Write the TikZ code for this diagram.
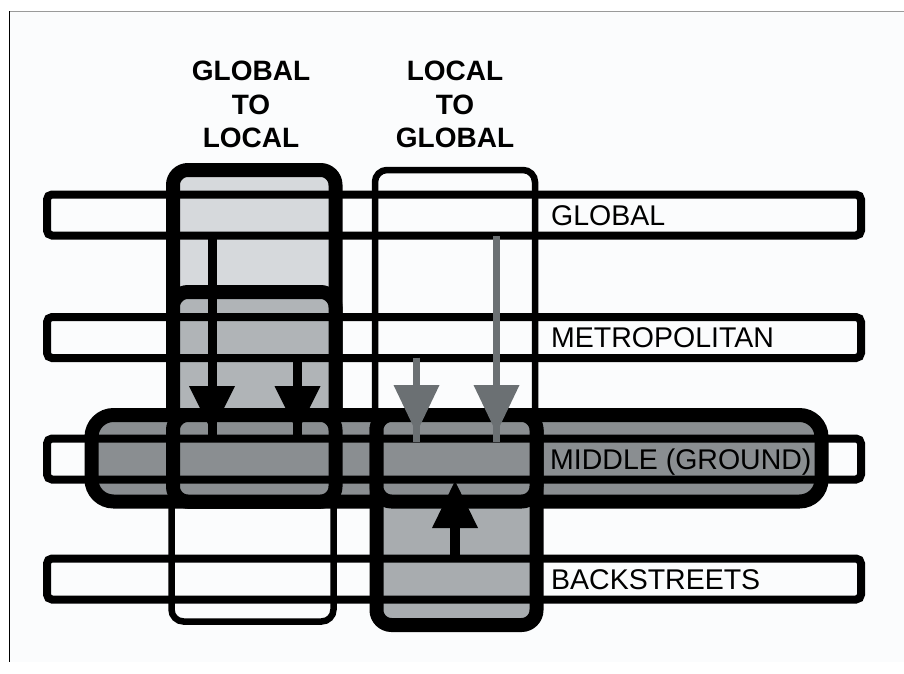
\documentclass[tikz,border=0pt]{standalone}
\usepackage{fontspec}
\setmainfont{Liberation Sans}
\usetikzlibrary{arrows.meta}
\definecolor{bglight}{HTML}{FBFCFD}
\definecolor{lightfill}{HTML}{D6D9DC}
\definecolor{metrofill}{HTML}{B0B4B7}
\definecolor{midfill}{HTML}{8A8E91}
\definecolor{lowfill}{HTML}{A8ACAF}
\definecolor{greyarrow}{HTML}{6B7073}
\definecolor{framegrey}{HTML}{9A9A9A}
\begin{document}
\begin{tikzpicture}[x=1pt,y=-1pt,
  band/.style={draw=black, line width=8pt, rounded corners=5pt, minimum height=41pt, minimum width=814pt, inner sep=0pt},
  thinbox/.style={draw=black, line width=6.5pt, rounded corners=12pt, inner sep=0pt},
  thickbox/.style={draw=black, line width=14pt, rounded corners=15pt, inner sep=0pt},
  longbox/.style={thickbox, rounded corners=22pt},
  bandlabel/.style={anchor=base west, inner sep=0pt, font=\fontsize{28.5}{34}\selectfont},
  coltitle/.style={align=center, inner sep=0pt, font=\fontsize{28}{33.5}\selectfont\bfseries},
  bstem/.style={line width=9pt, black},
  bhead/.style={line width=9pt, black, -{Triangle[width=46pt,length=46pt,line width=0pt]}},
  gstem/.style={line width=7pt, greyarrow},
  ghead/.style={line width=7pt, greyarrow, -{Triangle[width=46pt,length=48pt,line width=0pt]}},
  uhead/.style={line width=10pt, black, -{Triangle[width=46pt,length=47pt,line width=0pt]}}
]
\useasboundingbox (0,0) rectangle (904,673);
\fill[white] (0,0) rectangle (904,673);
\fill[bglight] (9.5,11.5) rectangle (904,662);
\draw[framegrey, line width=1.2pt] (9,11.5) -- (904,11.5);
\draw[black, line width=1.2pt] (9.5,11) -- (9.5,662);

% column outlines (thin)
\node[thinbox, minimum width=162pt, minimum height=451.5pt] (lthin) at (252.5,395.75) {};
\node[thinbox, minimum width=160pt, minimum height=430pt] (rthin) at (455,385) {};

% thick boxes
\node[thickbox, fill=lightfill, minimum width=162.5pt, minimum height=331.5pt] (gtl) at (254.25,335.75) {};
\node[thickbox, fill=metrofill, minimum width=162.5pt, minimum height=209.5pt] (gtlmetro) at (254.25,396.75) {};
\node[longbox, fill=midfill, minimum width=730pt, minimum height=86.5pt] (middlebox) at (456.5,458.25) {};
\node[thickbox, fill=midfill, minimum width=162.5pt, minimum height=86.5pt] (gtlmid) at (254.25,458.25) {};
\node[thickbox, fill=lowfill, minimum width=160pt, minimum height=210pt] (ltg) at (456.5,520) {};
\node[thickbox, fill=midfill, minimum width=160pt, minimum height=86.5pt] (ltgmid) at (456.5,458.25) {};

% bands
\node[band] (bglobal) at (454,215) {};
\node[band] (bmetro) at (454,337.5) {};
\node[band] (bmiddle) at (454,459) {};
\node[band] (bback) at (454,579) {};

% arrow end points
\coordinate (a1s) at (212,236);
\coordinate (a1t) at (212,432);
\coordinate (a1e) at (212,441);
\coordinate (a2s) at (297.5,357.5);
\coordinate (a2t) at (297.5,432);
\coordinate (a2e) at (297.5,441);
\coordinate (g1s) at (416.5,357.5);
\coordinate (g1t) at (416.5,433);
\coordinate (g1e) at (416.5,442);
\coordinate (g2s) at (496.5,236);
\coordinate (g2t) at (496.5,433);
\coordinate (g2e) at (496.5,442);
\coordinate (us) at (455,559);
\coordinate (ut) at (455,481);

\draw[bstem] (a1s) -- (a1e);
\draw[bhead] (a1s) -- (a1t);
\draw[bstem] (a2s) -- (a2e);
\draw[bhead] (a2s) -- (a2t);
\draw[gstem] (g1s) -- (g1e);
\draw[ghead] (g1s) -- (g1t);
\draw[gstem] (g2s) -- (g2e);
\draw[ghead] (g2s) -- (g2t);
\draw[uhead] (us) -- (ut);

% labels
\node[bandlabel] (lglobal) at (551,225) {GLOBAL};
\node[bandlabel] (lmetro) at (551,347.5) {METROPOLITAN};
\node[bandlabel] (lmiddle) at (550,469) {MIDDLE (GROUND)};
\node[bandlabel] (lback) at (551,589) {BACKSTREETS};

\node[coltitle] (tgl) at (251,104.5) {GLOBAL\\TO\\LOCAL};
\node[coltitle] (tlg) at (455,104.5) {LOCAL\\TO\\GLOBAL};
\end{tikzpicture}
\end{document}
